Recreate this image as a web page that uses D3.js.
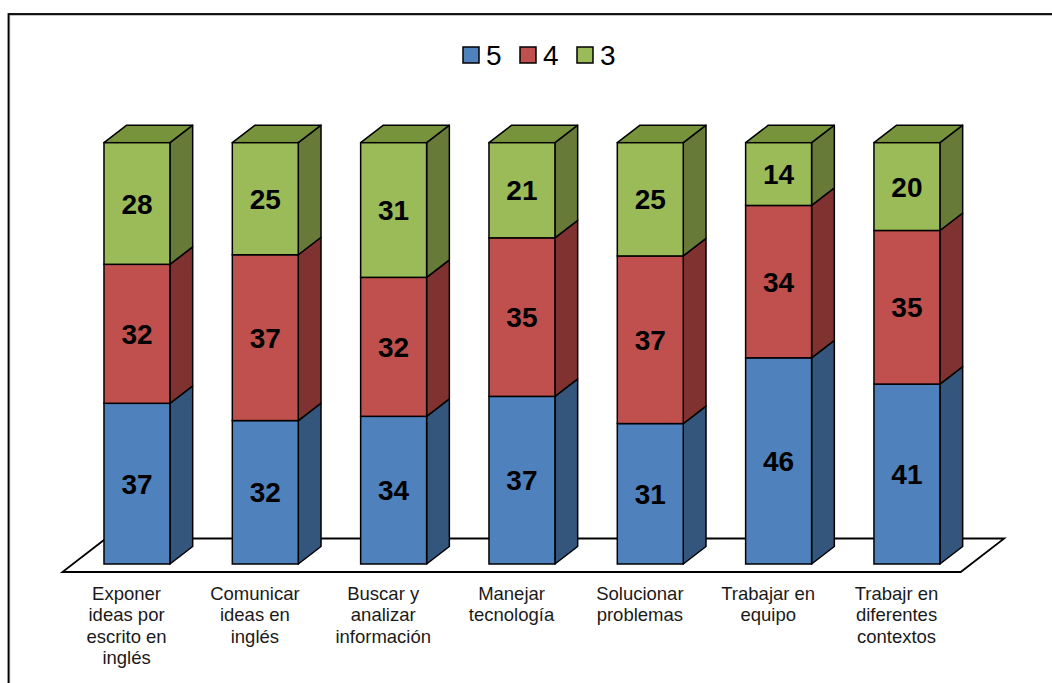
<!DOCTYPE html>
<html>
<head>
<meta charset="utf-8">
<script src="https://cdn.jsdelivr.net/npm/d3@7"></script>
<style>
  html, body { margin: 0; padding: 0; background: #fff; overflow: hidden; }
  svg { display: block; font-family: "Liberation Sans", Arial, sans-serif; }
</style>
</head>
<body>
<div id="chart"></div>
<script>
// categorias (saltos de linea como en la imagen)
const categories = [
  "Exponer\nideas por\nescrito en\ninglés",
  "Comunicar\nideas en\ninglés",
  "Buscar y\nanalizar\ninformación",
  "Manejar\ntecnología",
  "Solucionar\nproblemas",
  "Trabajar en\nequipo",
  "Trabajr en\ndiferentes\ncontextos"
];
const seriesNames = ["5", "4", "3"];
const values5 = [37, 32, 34, 37, 31, 46, 41];
const values4 = [32, 37, 32, 35, 37, 34, 35];
const values3 = [28, 25, 31, 21, 25, 14, 20];

const colors = {
  "5": { front: "#4F81BD", side: "#34557C", top: "#3F6797" },
  "4": { front: "#C0504D", side: "#7F3230", top: "#9A3F3C" },
  "3": { front: "#9BBB59", side: "#677A38", top: "#77933C" }
};

const width = 1052, height = 683;
const depthY = 17.5;           // profundidad de la barra (vertical)
const depthX = depthY * 1.3;   // profundidad de la barra (horizontal)
const floorPad = 8;            // piso delante/detras de la barra

const rows = categories.map((c, i) => ({ cat: c, "5": values5[i], "4": values4[i], "3": values3[i] }));
const stacked = d3.stack().keys(seriesNames).offset(d3.stackOffsetExpand)(rows);

const x = d3.scaleBand()
  .domain(categories)
  .range([72.8, 971.1])
  .paddingInner(0.486)
  .paddingOuter(0.243);

const y = d3.scaleLinear().domain([0, 1]).range([564, 142.7]);

const svg = d3.select("#chart").append("svg")
  .attr("width", width)
  .attr("height", height);

// marco
svg.append("rect")
  .attr("x", 9.5).attr("y", 15)
  .attr("width", 1100).attr("height", 800)
  .attr("fill", "none").attr("stroke", "#b0b0b0").attr("stroke-width", 1.5);
svg.append("rect")
  .attr("x", 8.5).attr("y", 14)
  .attr("width", 1100).attr("height", 800)
  .attr("fill", "none").attr("stroke", "#000").attr("stroke-width", 1.8);

// piso
const fdx = floorPad * 1.3;
const fy0 = y(0) + floorPad;
const fy1 = y(0) - depthY - floorPad;
const fShift = (fy0 - fy1) * 1.3;
const [r0, r1] = x.range();
svg.append("path")
  .attr("d", `M${r0 - fdx},${fy0} L${r1 - fdx},${fy0} L${r1 - fdx + fShift},${fy1} L${r0 - fdx + fShift},${fy1} Z`)
  .attr("fill", "#fff")
  .attr("stroke", "#000")
  .attr("stroke-width", 1.8);

// barras
const bw = x.bandwidth();
stacked.forEach((s, si) => {
  const c = colors[s.key];
  const g = svg.append("g");
  s.forEach((d, i) => {
    const x0 = x(categories[i]);
    const yb = y(d[0]), yt = y(d[1]);
    // lado derecho
    g.append("path")
      .attr("d", `M${x0 + bw},${yb} L${x0 + bw + depthX},${yb - depthY} L${x0 + bw + depthX},${yt - depthY} L${x0 + bw},${yt} Z`)
      .attr("fill", c.side).attr("stroke", "#000").attr("stroke-width", 1.5).attr("stroke-linejoin", "round");
    // cara superior solo en el ultimo segmento
    if (si === stacked.length - 1) {
      g.append("path")
        .attr("d", `M${x0},${yt} L${x0 + depthX},${yt - depthY} L${x0 + bw + depthX},${yt - depthY} L${x0 + bw},${yt} Z`)
        .attr("fill", c.top).attr("stroke", "#000").attr("stroke-width", 1.5).attr("stroke-linejoin", "round");
    }
    // frente
    g.append("rect")
      .attr("x", x0).attr("y", yt)
      .attr("width", bw).attr("height", yb - yt)
      .attr("fill", c.front).attr("stroke", "#000").attr("stroke-width", 1.5);
    // etiqueta de valor
    g.append("text")
      .attr("x", x0 + bw / 2)
      .attr("y", (yb + yt) / 2)
      .attr("dy", "0.36em")
      .attr("text-anchor", "middle")
      .style("font-size", "28px")
      .style("font-weight", "bold")
      .attr("fill", "#000")
      .text(d.data[s.key]);
  });
});

// etiquetas de categoria
const labels = svg.append("g");
categories.forEach(c => {
  const t = labels.append("text")
    .attr("x", x(c) + bw / 2 - fdx)
    .attr("y", 600)
    .attr("text-anchor", "middle")
    .style("font-size", "18.5px")
    .attr("fill", "#1a1a1a");
  c.split("\n").forEach((line, li) => {
    t.append("tspan")
      .attr("x", x(c) + bw / 2 - fdx)
      .attr("dy", li === 0 ? 0 : 21.3)
      .text(line);
  });
});

// leyenda
const legendX = [463, 520, 577];
const legend = svg.append("g");
seriesNames.forEach((k, i) => {
  legend.append("rect")
    .attr("x", legendX[i]).attr("y", 47)
    .attr("width", 16).attr("height", 16)
    .attr("fill", colors[k].front).attr("stroke", "#000").attr("stroke-width", 1.5);
  legend.append("text")
    .attr("x", legendX[i] + 23).attr("y", 64.5)
    .style("font-size", "28px")
    .attr("fill", "#000")
    .text(k);
});
</script>
</body>
</html>
